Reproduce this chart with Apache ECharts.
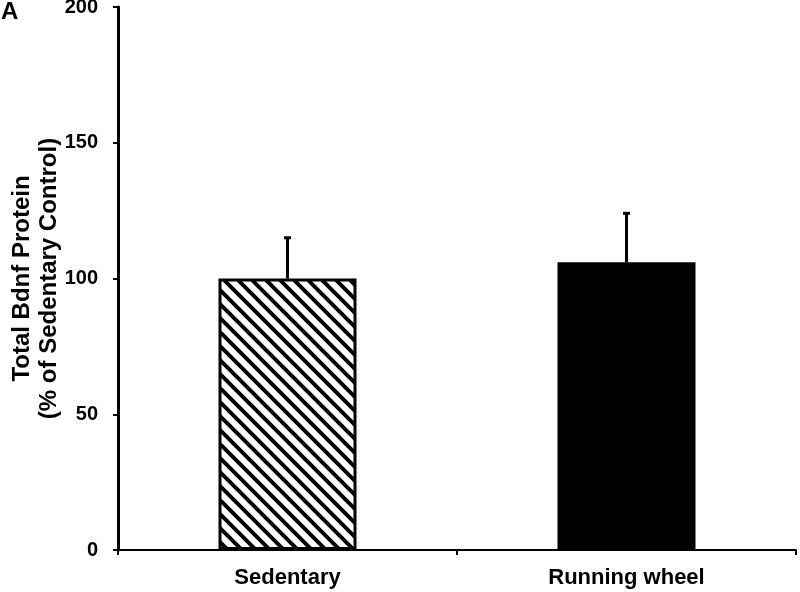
<!DOCTYPE html>
<html>
<head>
<meta charset="utf-8">
<script src="https://cdn.jsdelivr.net/npm/echarts@6/dist/echarts.min.js"></script>
<style>html,body{margin:0;padding:0;background:#fff}#c{width:800px;height:592px}</style>
</head>
<body>
<div id="c"></div>
<script>
const categories = ['Sedentary', 'Running wheel'];
const means = [100, 106];
const errorTops = [115, 124];
const yTicks = [0, 50, 100, 150, 200];

// hatch pattern
const tile = document.createElement('canvas');
tile.width = 14; tile.height = 14;
const g = tile.getContext('2d');
g.fillStyle = '#fff'; g.fillRect(0, 0, 14, 14);
g.strokeStyle = '#000'; g.lineWidth = 4;
g.beginPath();
g.moveTo(-2, -2); g.lineTo(16, 16);
g.moveTo(-16, -2); g.lineTo(2, 16);
g.moveTo(12, -2); g.lineTo(30, 16);
g.stroke();

const FONT = '"Liberation Sans", Arial, sans-serif';
const chart = echarts.init(document.getElementById('c'));
chart.setOption({
  animation: false,
  backgroundColor: '#fff',
  title: { text: 'A', left: 1, top: 0, padding: 0,
    textStyle: { color: '#000', fontFamily: FONT, fontWeight: 'bold', fontSize: 24 } },
  grid: { left: 118, right: 4, top: 7, bottom: 42, containLabel: false, outerBoundsMode: 'none' },
  xAxis: {
    type: 'category',
    data: categories,
    axisLine: { lineStyle: { color: '#000', width: 2 } },
    axisTick: { show: true, length: 5, lineStyle: { color: '#000', width: 2 } },
    axisLabel: { color: '#000', fontFamily: FONT, fontWeight: 'bold', fontSize: 22, margin: 17 }
  },
  yAxis: {
    type: 'value', min: 0, max: 200, interval: 50,
    name: 'Total Bdnf Protein\n(% of Sedentary Control)',
    nameLocation: 'middle', nameGap: 55, nameRotate: 90, nameMoveOverlap: false,
    nameTextStyle: { color: '#000', fontFamily: FONT, fontWeight: 'bold', fontSize: 24, lineHeight: 27 },
    axisLine: { show: true, lineStyle: { color: '#000', width: 3 } },
    axisTick: { show: true, length: 5, lineStyle: { color: '#000', width: 2 } },
    axisLabel: { color: '#000', fontFamily: FONT, fontWeight: 'bold', fontSize: 20, margin: 20,
      formatter: v => yTicks.includes(v) ? String(v) : '' },
    splitLine: { show: false }
  },
  series: [
    {
      type: 'bar',
      barWidth: 138,
      data: [
        { value: means[0], itemStyle: { color: { image: tile, repeat: 'repeat' }, borderColor: '#000', borderWidth: 3 } },
        { value: means[1], itemStyle: { color: '#000', borderColor: '#000', borderWidth: 0 } }
      ],
      z: 2
    },
    {
      type: 'custom',
      data: categories.map((c, i) => [i, means[i], errorTops[i]]),
      renderItem: function (params, api) {
        const base = api.coord([api.value(0), api.value(1)]);
        const top = api.coord([api.value(0), api.value(2)]);
        return {
          type: 'group',
          children: [
            { type: 'line', shape: { x1: base[0], y1: base[1], x2: top[0], y2: top[1] }, style: { stroke: '#000', lineWidth: 3 } },
            { type: 'line', shape: { x1: top[0] - 3.5, y1: top[1], x2: top[0] + 3.5, y2: top[1] }, style: { stroke: '#000', lineWidth: 3 } }
          ]
        };
      },
      z: 3
    }
  ]
});
</script>
</body>
</html>
